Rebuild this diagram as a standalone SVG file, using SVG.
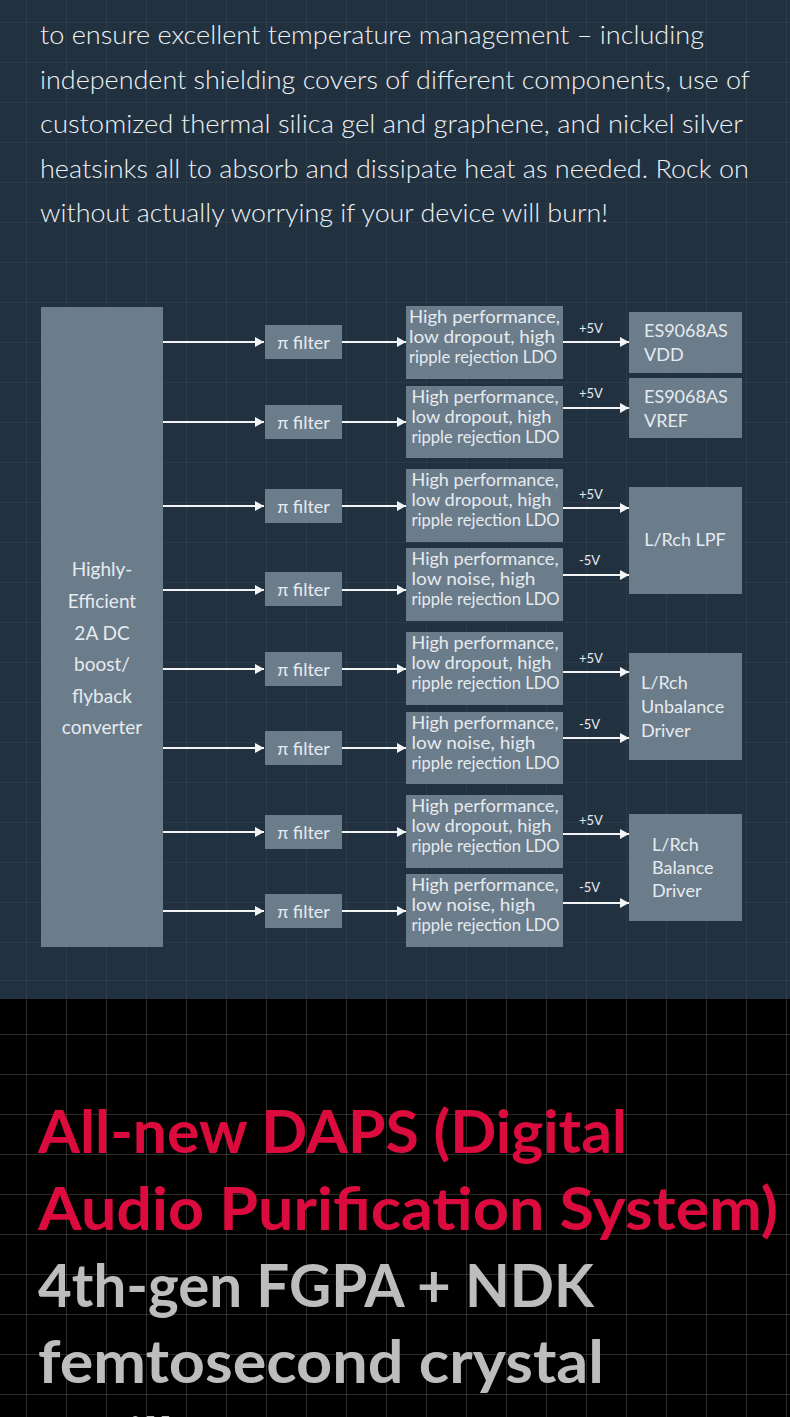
<svg xmlns="http://www.w3.org/2000/svg" width="790" height="1417" viewBox="0 0 790 1417">
<defs>
<style>
.bg-top{fill:#22313f}
.gridT{stroke:#ffffff;stroke-opacity:0.05;stroke-width:1}
.gridB{stroke:#ffffff;stroke-opacity:0.17;stroke-width:1}
.para{font-family:Lato,"Liberation Sans",sans-serif;font-weight:300;font-size:25px;fill:#eef2f5}
.box{fill:#6b7c8b}
.bt{font-family:Lato,"Liberation Sans",sans-serif;font-weight:400;font-size:18px;fill:#e6ebef}
.big{font-family:Lato,"Liberation Sans",sans-serif;font-weight:400;font-size:19px;fill:#e6ebef;text-anchor:middle}
.pi{font-family:Lato,"Liberation Sans",sans-serif;font-weight:400;font-size:18px;fill:#e6ebef;text-anchor:middle}
.v{font-family:Lato,"Liberation Sans",sans-serif;font-weight:400;font-size:13px;fill:#e6ebef}
.conn{stroke:#f2f4f6;stroke-width:2;fill:none;marker-end:url(#ah)}
.h1{font-family:Lato,"Liberation Sans",sans-serif;font-weight:700;font-size:60px;fill:#dc0b3e}
.h2{font-family:Lato,"Liberation Sans",sans-serif;font-weight:700;font-size:60px;fill:#bdbdbd}
</style>
<marker id="ah" markerUnits="userSpaceOnUse" markerWidth="9" markerHeight="10" refX="9" refY="5" orient="auto">
<path d="M0,0 L9,5 L0,10 z" fill="#f2f4f6"/>
</marker>
</defs>

<!-- backgrounds -->
<rect x="0" y="0" width="790" height="999" class="bg-top"/>
<rect x="0" y="999" width="790" height="418" fill="#000000"/>
<g id="grid-top">
<path class="gridT" d="M26.5,0V999M66.5,0V999M106.5,0V999M146.5,0V999M186.5,0V999M226.5,0V999M266.5,0V999M306.5,0V999M346.5,0V999M386.5,0V999M426.5,0V999M466.5,0V999M506.5,0V999M546.5,0V999M586.5,0V999M626.5,0V999M666.5,0V999M706.5,0V999M746.5,0V999M786.5,0V999"/>
<path class="gridT" d="M0,22.5H790M0,62.5H790M0,102.5H790M0,142.5H790M0,182.5H790M0,222.5H790M0,262.5H790M0,302.5H790M0,342.5H790M0,382.5H790M0,422.5H790M0,462.5H790M0,502.5H790M0,542.5H790M0,582.5H790M0,622.5H790M0,662.5H790M0,702.5H790M0,742.5H790M0,782.5H790M0,822.5H790M0,862.5H790M0,902.5H790M0,942.5H790M0,980.5H790"/>
</g>
<g id="grid-bottom">
<path class="gridB" d="M26.5,999V1417M66.5,999V1417M106.5,999V1417M146.5,999V1417M186.5,999V1417M226.5,999V1417M266.5,999V1417M306.5,999V1417M346.5,999V1417M386.5,999V1417M426.5,999V1417M466.5,999V1417M506.5,999V1417M546.5,999V1417M586.5,999V1417M626.5,999V1417M666.5,999V1417M706.5,999V1417M746.5,999V1417M786.5,999V1417"/>
<path class="gridB" d="M0,1034.5H790M0,1074.5H790M0,1114.5H790M0,1154.5H790M0,1194.5H790M0,1234.5H790M0,1274.5H790M0,1314.5H790M0,1354.5H790M0,1394.5H790"/>
</g>

<!-- paragraph -->
<g id="paragraph">
<text class="para" x="40" y="44" textLength="664" lengthAdjust="spacingAndGlyphs">to ensure excellent temperature management – including</text>
<text class="para" x="40" y="89" textLength="710" lengthAdjust="spacingAndGlyphs">independent shielding covers of different components, use of</text>
<text class="para" x="40" y="133" textLength="703" lengthAdjust="spacingAndGlyphs">customized thermal silica gel and graphene, and nickel silver</text>
<text class="para" x="40" y="178" textLength="709" lengthAdjust="spacingAndGlyphs">heatsinks all to absorb and dissipate heat as needed. Rock on</text>
<text class="para" x="40" y="222" textLength="568" lengthAdjust="spacingAndGlyphs">without actually worrying if your device will burn!</text>
</g>

<!-- connectors -->
<g id="connectors">
<line class="conn" x1="163" y1="342" x2="264" y2="342"/>
<line class="conn" x1="163" y1="422" x2="264" y2="422"/>
<line class="conn" x1="163" y1="506" x2="264" y2="506"/>
<line class="conn" x1="163" y1="590" x2="264" y2="590"/>
<line class="conn" x1="163" y1="669" x2="264" y2="669"/>
<line class="conn" x1="163" y1="748" x2="264" y2="748"/>
<line class="conn" x1="163" y1="832" x2="264" y2="832"/>
<line class="conn" x1="163" y1="911" x2="264" y2="911"/>

<line class="conn" x1="342" y1="342" x2="406" y2="342"/>
<line class="conn" x1="342" y1="422" x2="406" y2="422"/>
<line class="conn" x1="342" y1="506" x2="406" y2="506"/>
<line class="conn" x1="342" y1="590" x2="406" y2="590"/>
<line class="conn" x1="342" y1="669" x2="406" y2="669"/>
<line class="conn" x1="342" y1="748" x2="406" y2="748"/>
<line class="conn" x1="342" y1="832" x2="406" y2="832"/>
<line class="conn" x1="342" y1="911" x2="406" y2="911"/>

<line class="conn" x1="563" y1="342" x2="629" y2="342"/>
<line class="conn" x1="563" y1="408" x2="629" y2="408"/>
<line class="conn" x1="563" y1="508" x2="629" y2="508"/>
<line class="conn" x1="563" y1="575" x2="629" y2="575"/>
<line class="conn" x1="563" y1="672" x2="629" y2="672"/>
<line class="conn" x1="563" y1="738" x2="629" y2="738"/>
<line class="conn" x1="563" y1="834" x2="629" y2="834"/>
<line class="conn" x1="563" y1="903" x2="629" y2="903"/>

<text class="v" x="579" y="333">+5V</text>
<text class="v" x="579" y="398">+5V</text>
<text class="v" x="579" y="499">+5V</text>
<text class="v" x="579" y="565">-5V</text>
<text class="v" x="579" y="663">+5V</text>
<text class="v" x="579" y="729">-5V</text>
<text class="v" x="579" y="825">+5V</text>
<text class="v" x="579" y="892">-5V</text>
</g>

<!-- source -->
<g id="converter">
<rect class="box" x="41" y="307" width="122" height="640"/>
<text class="big" x="102" y="576">Highly-</text>
<text class="big" x="102" y="608">Efficient</text>
<text class="big" x="102" y="640">2A DC</text>
<text class="big" x="102" y="671">boost/</text>
<text class="big" x="102" y="703">flyback</text>
<text class="big" x="102" y="734">converter</text>
</g>

<!-- pi filters -->
<g id="pi1"><rect class="box" x="265" y="325" width="77" height="34"/><text class="pi" x="303.5" y="349">π filter</text></g>
<g id="pi2"><rect class="box" x="265" y="405" width="77" height="34"/><text class="pi" x="303.5" y="429">π filter</text></g>
<g id="pi3"><rect class="box" x="265" y="489" width="77" height="34"/><text class="pi" x="303.5" y="513">π filter</text></g>
<g id="pi4"><rect class="box" x="265" y="572" width="77" height="34"/><text class="pi" x="303.5" y="596">π filter</text></g>
<g id="pi5"><rect class="box" x="265" y="652" width="77" height="34"/><text class="pi" x="303.5" y="676">π filter</text></g>
<g id="pi6"><rect class="box" x="265" y="731" width="77" height="34"/><text class="pi" x="303.5" y="755">π filter</text></g>
<g id="pi7"><rect class="box" x="265" y="815" width="77" height="34"/><text class="pi" x="303.5" y="839">π filter</text></g>
<g id="pi8"><rect class="box" x="265" y="894" width="77" height="34"/><text class="pi" x="303.5" y="918">π filter</text></g>

<!-- LDOs -->
<g id="ldo1"><rect class="box" x="406" y="306" width="157" height="73"/>
<text class="bt" x="409" y="323" textLength="151" lengthAdjust="spacingAndGlyphs">High performance,</text>
<text class="bt" x="409" y="343" textLength="146" lengthAdjust="spacingAndGlyphs">low dropout, high</text>
<text class="bt" x="409" y="363" textLength="148" lengthAdjust="spacingAndGlyphs">ripple rejection LDO</text></g>
<g id="ldo2"><rect class="box" x="406" y="386" width="157" height="72"/>
<text class="bt" x="411.5" y="403" textLength="147" lengthAdjust="spacingAndGlyphs">High performance,</text>
<text class="bt" x="411.5" y="423" textLength="140" lengthAdjust="spacingAndGlyphs">low dropout, high</text>
<text class="bt" x="411.5" y="443" textLength="148" lengthAdjust="spacingAndGlyphs">ripple rejection LDO</text></g>
<g id="ldo3"><rect class="box" x="406" y="469" width="157" height="73"/>
<text class="bt" x="411.5" y="486" textLength="147" lengthAdjust="spacingAndGlyphs">High performance,</text>
<text class="bt" x="411.5" y="506" textLength="140" lengthAdjust="spacingAndGlyphs">low dropout, high</text>
<text class="bt" x="411.5" y="526" textLength="148" lengthAdjust="spacingAndGlyphs">ripple rejection LDO</text></g>
<g id="ldo4"><rect class="box" x="406" y="548" width="157" height="73"/>
<text class="bt" x="411.5" y="565" textLength="147" lengthAdjust="spacingAndGlyphs">High performance,</text>
<text class="bt" x="411.5" y="585" textLength="124" lengthAdjust="spacingAndGlyphs">low noise, high</text>
<text class="bt" x="411.5" y="605" textLength="148" lengthAdjust="spacingAndGlyphs">ripple rejection LDO</text></g>
<g id="ldo5"><rect class="box" x="406" y="632" width="157" height="73"/>
<text class="bt" x="411.5" y="649" textLength="147" lengthAdjust="spacingAndGlyphs">High performance,</text>
<text class="bt" x="411.5" y="669" textLength="140" lengthAdjust="spacingAndGlyphs">low dropout, high</text>
<text class="bt" x="411.5" y="689" textLength="148" lengthAdjust="spacingAndGlyphs">ripple rejection LDO</text></g>
<g id="ldo6"><rect class="box" x="406" y="712" width="157" height="72"/>
<text class="bt" x="411.5" y="729" textLength="147" lengthAdjust="spacingAndGlyphs">High performance,</text>
<text class="bt" x="411.5" y="749" textLength="124" lengthAdjust="spacingAndGlyphs">low noise, high</text>
<text class="bt" x="411.5" y="769" textLength="148" lengthAdjust="spacingAndGlyphs">ripple rejection LDO</text></g>
<g id="ldo7"><rect class="box" x="406" y="795" width="157" height="73"/>
<text class="bt" x="411.5" y="812" textLength="147" lengthAdjust="spacingAndGlyphs">High performance,</text>
<text class="bt" x="411.5" y="832" textLength="140" lengthAdjust="spacingAndGlyphs">low dropout, high</text>
<text class="bt" x="411.5" y="852" textLength="148" lengthAdjust="spacingAndGlyphs">ripple rejection LDO</text></g>
<g id="ldo8"><rect class="box" x="406" y="874" width="157" height="73"/>
<text class="bt" x="411.5" y="891" textLength="147" lengthAdjust="spacingAndGlyphs">High performance,</text>
<text class="bt" x="411.5" y="911" textLength="124" lengthAdjust="spacingAndGlyphs">low noise, high</text>
<text class="bt" x="411.5" y="931" textLength="148" lengthAdjust="spacingAndGlyphs">ripple rejection LDO</text></g>

<!-- outputs -->
<g id="vdd"><rect class="box" x="629" y="312" width="113" height="61"/>
<text class="bt" x="644" y="337">ES9068AS</text><text class="bt" x="644" y="361">VDD</text></g>
<g id="vref"><rect class="box" x="629" y="378" width="113" height="60"/>
<text class="bt" x="644" y="403">ES9068AS</text><text class="bt" x="644" y="427">VREF</text></g>
<g id="lpf"><rect class="box" x="629" y="487" width="113" height="107"/>
<text class="bt" x="685" y="546" text-anchor="middle">L/Rch LPF</text></g>
<g id="unbalance"><rect class="box" x="629" y="653" width="113" height="107"/>
<text class="bt" x="641" y="689">L/Rch</text><text class="bt" x="641" y="713">Unbalance</text><text class="bt" x="641" y="737">Driver</text></g>
<g id="balance"><rect class="box" x="629" y="814" width="113" height="107"/>
<text class="bt" x="652" y="851">L/Rch</text><text class="bt" x="652" y="874">Balance</text><text class="bt" x="652" y="897">Driver</text></g>

<!-- headline -->
<g id="headline">
<text class="h1" x="38" y="1153" textLength="589" lengthAdjust="spacingAndGlyphs">All-new DAPS (Digital</text>
<text class="h1" x="38" y="1230" textLength="740" lengthAdjust="spacingAndGlyphs">Audio Purification System)</text>
<text class="h2" x="38" y="1307" textLength="556" lengthAdjust="spacingAndGlyphs">4th-gen FGPA + NDK</text>
<text class="h2" x="38" y="1383" textLength="566" lengthAdjust="spacingAndGlyphs">femtosecond crystal</text>
<text class="h2" x="38" y="1460">oscillator</text>
</g>
</svg>
